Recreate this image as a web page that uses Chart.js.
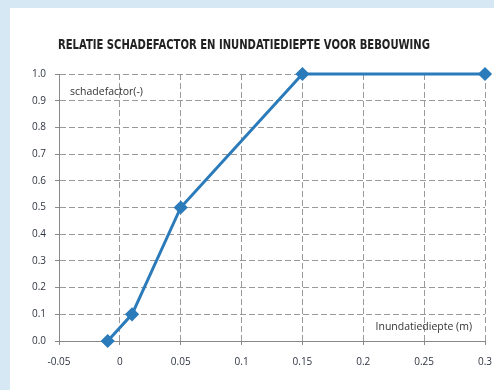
<!doctype html>
<html lang="nl">
<head>
<meta charset="utf-8">
<title>Schadefactor</title>
<script src="https://cdn.jsdelivr.net/npm/chart.js@4.4.1/dist/chart.umd.min.js"></script>
<style>
  html, body { margin: 0; padding: 0; }
  body { width: 494px; height: 390px; background: #d5e8f3; position: relative; overflow: hidden; }
  .panel { position: absolute; left: 10px; top: 8px; right: 0; bottom: 0; background: #fff; }
  .wrap { position: absolute; left: 0; top: 0; width: 494px; height: 390px; }
</style>
</head>
<body>
<div class="panel"></div>
<div class="wrap"><canvas id="chart" width="494" height="390"></canvas></div>
<script>
// data
var depth = [-0.01, 0.01, 0.05, 0.15, 0.3];          // inundatiediepte (m)
var factor = [0, 0.1, 0.5, 1.0, 1.0];                 // schadefactor (-)
var xTickLabels = ['-0.05', '0', '0.05', '0.1', '0.15', '0.2', '0.25', '0.3'];
var yTickLabels = ['0.0', '0.1', '0.2', '0.3', '0.4', '0.5', '0.6', '0.7', '0.8', '0.9', '1.0'];
var title = 'RELATIE SCHADEFACTOR EN INUNDATIEDIEPTE VOOR BEBOUWING';

var points = depth.map(function (d, i) { return { x: d, y: factor[i] }; });

var tickFont = { family: '"Open Sans", "Liberation Sans", sans-serif', size: 10 };

var gridStyle = {
  color: '#9a9a9a',
  lineWidth: 1,
  tickLength: 4,
  tickBorderDash: [],
  tickColor: '#888'
};
var borderStyle = { display: true, color: '#888', width: 1, dash: [6, 3] };

// title (condensed) and axis captions inside the plot
var captions = {
  id: 'captions',
  afterDraw: function (chart) {
    var c = chart.ctx, a = chart.chartArea;
    c.save();
    c.font = 'bold 13.5px "DejaVu Sans Condensed", "DejaVu Sans", sans-serif';
    c.fillStyle = '#222';
    c.textBaseline = 'alphabetic';
    c.textAlign = 'center';
    var w = c.measureText(title).width;
    c.translate(244, 49);
    c.scale(372 / w, 1);
    c.fillText(title, 0, 0);
    c.restore();

    c.save();
    c.font = '10.5px "Open Sans", "Liberation Sans", sans-serif';
    c.fillStyle = '#333';
    c.textBaseline = 'middle';
    c.textAlign = 'left';
    c.fillText('schadefactor(-)', a.left + 11, a.top + 18);
    c.textAlign = 'right';
    c.fillText('Inundatiediepte (m)', a.right - 13, a.bottom - 14);
    c.restore();
  }
};

var ctx = document.getElementById('chart').getContext('2d');
var chart = new Chart(ctx, {
  type: 'scatter',
  data: {
    datasets: [{
      data: points,
      showLine: true,
      clip: false,
      borderColor: '#2b7bba',
      backgroundColor: '#2b7bba',
      borderWidth: 3,
      pointStyle: 'rectRot',
      pointRadius: 5,
      pointHoverRadius: 5
    }]
  },
  options: {
    responsive: false,
    animation: false,
    layout: { padding: { left: 10, right: 9, top: 74, bottom: 11 } },
    plugins: {
      legend: { display: false },
      tooltip: { enabled: false },
      title: { display: false }
    },
    scales: {
      x: {
        type: 'linear',
        min: -0.05,
        max: 0.3,
        ticks: {
          stepSize: 0.05,
          color: '#2e3440',
          padding: 11,
          font: tickFont,
          callback: function (v, i) { return xTickLabels[i]; }
        },
        grid: gridStyle,
        border: borderStyle,
        afterFit: function (s) { s.paddingLeft = 0; s.paddingRight = 0; }
      },
      y: {
        min: 0,
        max: 1,
        ticks: {
          stepSize: 0.1,
          color: '#2e3440',
          padding: 9,
          font: tickFont,
          callback: function (v, i) { return yTickLabels[i]; }
        },
        grid: gridStyle,
        border: borderStyle,
        afterFit: function (s) { s.width = 49; s.paddingTop = 0; s.paddingBottom = 0; }
      }
    }
  },
  plugins: [captions]
});
</script>
</body>
</html>
